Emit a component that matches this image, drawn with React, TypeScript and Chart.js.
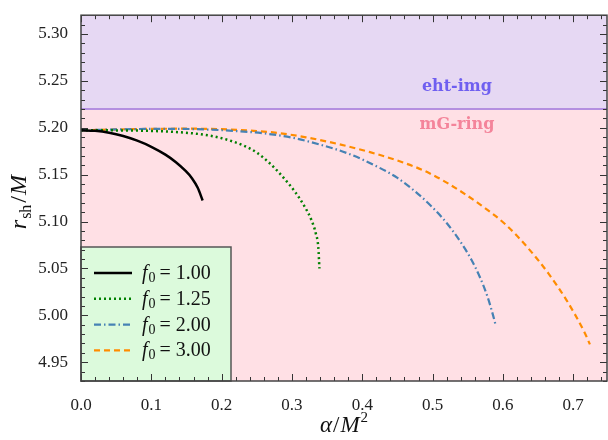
import React, { useEffect, useRef } from "react";
import { Chart, registerables } from "chart.js";
Chart.register(...registerables);

// ---- data ----
const alpha1 = [0, 0.02, 0.04, 0.06, 0.08, 0.1, 0.12, 0.135, 0.148, 0.158, 0.166, 0.173];
const rsh1 = [5.1973, 5.1967, 5.1947, 5.1912, 5.1862, 5.1797, 5.1713, 5.1633, 5.1545, 5.146, 5.136, 5.1225];

const alpha2 = [0, 0.05, 0.1, 0.14, 0.17, 0.2, 0.23, 0.25, 0.27, 0.29, 0.305, 0.318, 0.328, 0.334, 0.3375, 0.339];
const rsh2 = [5.1973, 5.1972, 5.1966, 5.1952, 5.1931, 5.1889, 5.1814, 5.1735, 5.161, 5.145, 5.131, 5.116, 5.101, 5.087, 5.072, 5.05];

const alpha3 = [0, 0.05, 0.1, 0.14, 0.18, 0.22, 0.26, 0.3, 0.34, 0.38, 0.42, 0.45, 0.48, 0.5, 0.52, 0.54, 0.555, 0.568, 0.578, 0.586, 0.59];
const rsh3 = [5.1973, 5.1982, 5.1988, 5.1988, 5.1981, 5.1965, 5.194, 5.1895, 5.182, 5.1725, 5.159, 5.1465, 5.129, 5.115, 5.0985, 5.078, 5.0595, 5.0395, 5.02, 5.0, 4.9886];

const alpha4 = [0, 0.05, 0.1, 0.155, 0.2, 0.25, 0.276, 0.32, 0.3635, 0.411, 0.458, 0.49, 0.52, 0.5697, 0.605, 0.636, 0.6644, 0.6906, 0.7166, 0.7237];
const rsh4 = [5.1973, 5.1982, 5.1988, 5.199, 5.1985, 5.1965, 5.1948, 5.1898, 5.183, 5.174, 5.163, 5.1535, 5.1415, 5.117, 5.096, 5.0715, 5.045, 5.016, 4.981, 4.969];

const f0Labels = ["1.00", "1.25", "2.00", "3.00"];
const bandLevel = 5.22;
const bandTopLabel = "eht-img";
const bandBottomLabel = "mG-ring";

const X_MIN = 0;
const X_MAX = 0.748;
const Y_MIN = 4.93;
const Y_MAX = 5.32;
const X_MAJOR = 0.1;
const X_MINOR = 0.02;
const Y_MAJOR = 0.05;
const Y_MINOR = 0.01;

const SERIF = '"Liberation Serif", "DejaVu Serif", serif';
const DSERIF = '"DejaVu Serif", "Liberation Serif", serif';

function pts(xs: number[], ys: number[]) {
  return xs.map((x, i) => ({ x, y: ys[i] }));
}

type Run = { t: string; font: string; dy?: number; gap?: number };
function drawRuns(ctx: CanvasRenderingContext2D, runs: Run[], x: number, y: number, align: "left" | "center") {
  let w = 0;
  for (const r of runs) {
    ctx.font = r.font;
    w += ctx.measureText(r.t).width + (r.gap || 0);
  }
  let cx = align === "center" ? x - w / 2 : x;
  ctx.textAlign = "left";
  for (const r of runs) {
    ctx.font = r.font;
    ctx.fillText(r.t, cx, y + (r.dy || 0));
    cx += ctx.measureText(r.t).width + (r.gap || 0);
  }
}

const decor = {
  id: "decor",
  beforeDatasetsDraw(chart: any) {
    const { ctx, chartArea: a, scales } = chart;
    const x = scales.x;
    const y = scales.y;
    const yb = y.getPixelForValue(bandLevel);
    ctx.save();
    ctx.fillStyle = "#e6d8f3";
    ctx.fillRect(a.left, a.top, a.right - a.left, yb - a.top);
    ctx.fillStyle = "#ffe0e5";
    ctx.fillRect(a.left, yb, a.right - a.left, a.bottom - yb);
    ctx.strokeStyle = "#b48fe0";
    ctx.lineWidth = 2;
    ctx.beginPath();
    ctx.moveTo(a.left, yb);
    ctx.lineTo(a.right, yb);
    ctx.stroke();

    ctx.textBaseline = "middle";
    ctx.textAlign = "center";
    ctx.font = `bold 16px ${DSERIF}`;
    ctx.fillStyle = "#6f5ff0";
    ctx.fillText(bandTopLabel, x.getPixelForValue(0.5346), y.getPixelForValue(5.2435));
    ctx.fillStyle = "#f4849a";
    ctx.fillText(bandBottomLabel, x.getPixelForValue(0.5346), y.getPixelForValue(5.2028));
    ctx.restore();
  },
  afterDatasetsDraw(chart: any) {
    const { ctx, chartArea: a, scales } = chart;
    const x = scales.x;
    const y = scales.y;
    ctx.save();

    // legend
    const lx0 = a.left, lx1 = a.left + 150, ly0 = a.bottom - 134, ly1 = a.bottom;
    ctx.fillStyle = "#dcfadc";
    ctx.fillRect(lx0, ly0, lx1 - lx0, ly1 - ly0);
    ctx.strokeStyle = "#555555";
    ctx.lineWidth = 1.5;
    ctx.strokeRect(lx0, ly0, lx1 - lx0, ly1 - ly0);
    chart.data.datasets.forEach((ds: any, i: number) => {
      const cy = ly0 + 26 + i * 25.8;
      ctx.strokeStyle = ds.borderColor;
      ctx.lineWidth = ds.borderWidth;
      ctx.setLineDash(ds.borderDash || []);
      ctx.beginPath();
      ctx.moveTo(lx0 + 13, cy);
      ctx.lineTo(lx0 + 51, cy);
      ctx.stroke();
      ctx.setLineDash([]);
      ctx.fillStyle = "#111";
      ctx.textBaseline = "alphabetic";
      drawRuns(
        ctx,
        [
          { t: "f", font: `italic 20px ${SERIF}`, gap: 1 },
          { t: "0", font: `14px ${SERIF}`, dy: 3, gap: 4 },
          { t: "=", font: `20px ${SERIF}`, gap: 5 },
          { t: f0Labels[i], font: `20px ${SERIF}` },
        ],
        lx0 + 61,
        cy + 6,
        "left"
      );
    });

    // ticks (inward on all sides)
    ctx.strokeStyle = "#333";
    ctx.lineWidth = 1;
    const tick = (x0: number, y0: number, x1: number, y1: number) => {
      ctx.beginPath();
      ctx.moveTo(x0, y0);
      ctx.lineTo(x1, y1);
      ctx.stroke();
    };
    const nx = Math.round((X_MAX - X_MIN) / X_MINOR);
    for (let i = 0; i <= nx; i++) {
      const v = X_MIN + i * X_MINOR;
      if (v > X_MAX + 1e-9) break;
      const major = Math.abs(v / X_MAJOR - Math.round(v / X_MAJOR)) < 1e-6;
      const L = major ? 7 : 4;
      const px = Math.round(x.getPixelForValue(v)) + 0.5;
      tick(px, a.bottom, px, a.bottom - L);
      tick(px, a.top, px, a.top + L);
    }
    const y0 = Math.ceil(Y_MIN / Y_MINOR - 1e-6) * Y_MINOR;
    for (let i = 0; ; i++) {
      const v = y0 + i * Y_MINOR;
      if (v > Y_MAX + 1e-9) break;
      const major = Math.abs(v / Y_MAJOR - Math.round(v / Y_MAJOR)) < 1e-6;
      const L = major ? 7 : 4;
      const py = Math.round(y.getPixelForValue(v)) + 0.5;
      tick(a.left, py, a.left + L, py);
      tick(a.right, py, a.right - L, py);
    }

    // frame
    ctx.strokeStyle = "#444";
    ctx.lineWidth = 1.5;
    ctx.strokeRect(a.left, a.top, a.right - a.left, a.bottom - a.top);

    // axis titles
    ctx.fillStyle = "#111";
    ctx.textBaseline = "alphabetic";
    drawRuns(
      ctx,
      [
        { t: "α", font: `italic 23px ${SERIF}`, gap: 1 },
        { t: "/", font: `23px ${SERIF}`, gap: 1 },
        { t: "M", font: `italic 23px ${SERIF}`, gap: 1 },
        { t: "2", font: `15px ${SERIF}`, dy: -10 },
      ],
      (a.left + a.right) / 2,
      432,
      "center"
    );
    ctx.translate(26, (a.top + a.bottom) / 2 + 4);
    ctx.rotate(-Math.PI / 2);
    drawRuns(
      ctx,
      [
        { t: "r", font: `italic 24px ${SERIF}`, gap: 1 },
        { t: "sh", font: `16px ${SERIF}`, dy: 5, gap: 2 },
        { t: "/", font: `24px ${SERIF}`, gap: 1 },
        { t: "M", font: `italic 24px ${SERIF}` },
      ],
      0,
      0,
      "center"
    );
    ctx.restore();
  },
};

export default function App() {
  const ref = useRef<HTMLCanvasElement | null>(null);
  useEffect(() => {
    if (!ref.current) return;
    const tickFont = { family: SERIF, size: 17 };
    const common = { pointRadius: 0, cubicInterpolationMode: "monotone", fill: false };
    const chart = new Chart(ref.current, {
      type: "line",
      data: {
        datasets: [
          { label: "f0 = 1.00", data: pts(alpha1, rsh1), borderColor: "#000000", borderWidth: 2.5, borderDash: [], ...common },
          { label: "f0 = 1.25", data: pts(alpha2, rsh2), borderColor: "#008000", borderWidth: 2.5, borderDash: [2, 3], ...common },
          { label: "f0 = 2.00", data: pts(alpha3, rsh3), borderColor: "#4682b4", borderWidth: 2.2, borderDash: [7, 3, 1.5, 3], ...common },
          { label: "f0 = 3.00", data: pts(alpha4, rsh4), borderColor: "#ff8c00", borderWidth: 2.2, borderDash: [6, 4], ...common },
        ],
      } as any,
      options: {
        animation: false,
        responsive: false,
        maintainAspectRatio: false,
        devicePixelRatio: 1,
        layout: { padding: { top: 11, right: 1, left: 0, bottom: 0 } },
        plugins: { legend: { display: false }, tooltip: { enabled: false }, title: { display: false } },
        scales: {
          x: {
            type: "linear",
            min: X_MIN,
            max: X_MAX,
            grid: { display: false },
            border: { display: false },
            ticks: { stepSize: X_MAJOR, includeBounds: false, padding: 6, font: tickFont, color: "#222", maxRotation: 0, callback: (v: any) => Number(v).toFixed(1) },
            afterFit: (s: any) => { s.height = 59; },
          },
          y: {
            type: "linear",
            min: Y_MIN,
            max: Y_MAX,
            grid: { display: false },
            border: { display: false },
            ticks: { stepSize: Y_MAJOR, includeBounds: false, padding: 5, font: tickFont, color: "#222", callback: (v: any) => Number(v).toFixed(2) },
            afterFit: (s: any) => { s.width = 81; },
          },
        },
      } as any,
      plugins: [decor],
    });
    return () => chart.destroy();
  }, []);
  return (
    <div style={{ position: "absolute", left: 0, top: 0, width: 608, height: 440, background: "#fff" }}>
      <canvas ref={ref} width={608} height={440} style={{ width: 608, height: 440, display: "block" }} />
    </div>
  );
}
